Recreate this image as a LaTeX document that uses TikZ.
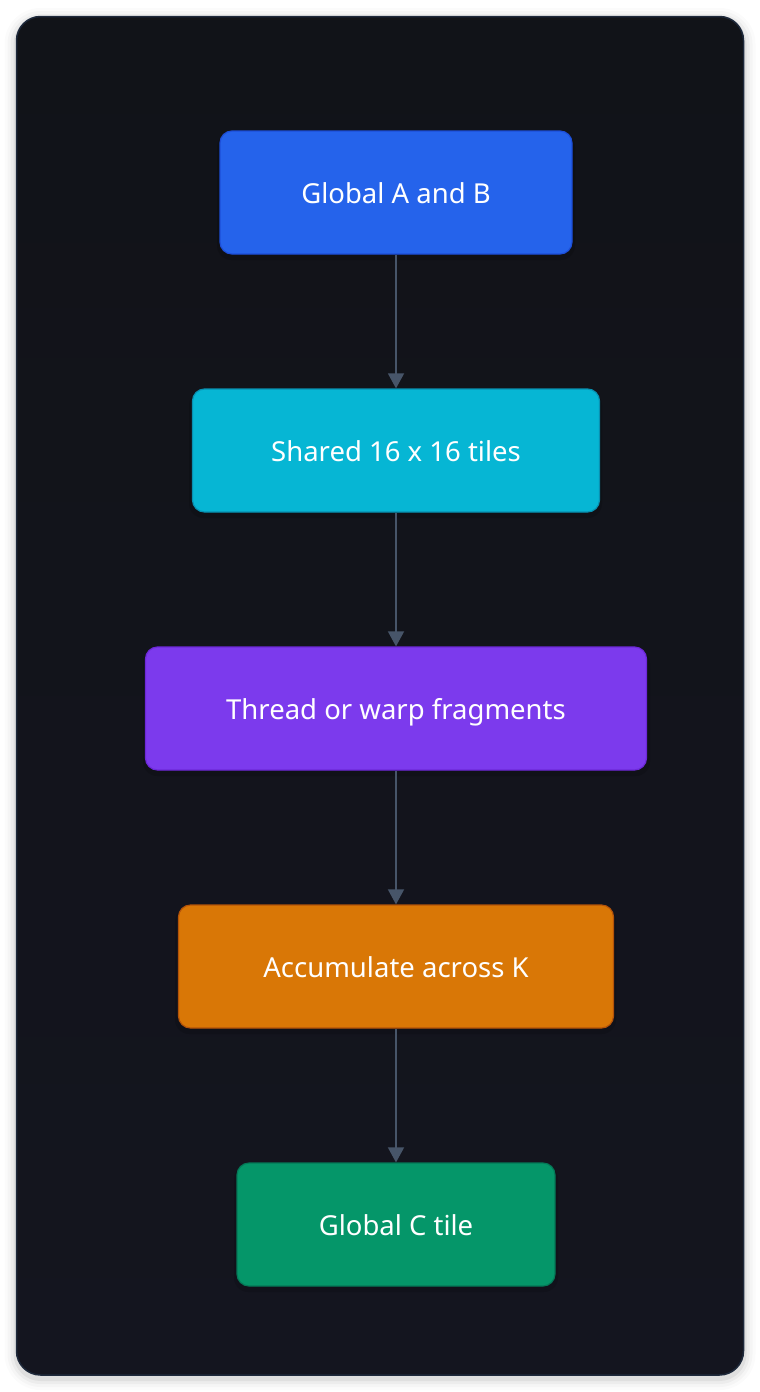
\documentclass[tikz,border=0pt]{standalone}
\usepackage{fontspec}
\setmainfont{Noto Sans}
\usetikzlibrary{arrows.meta}
\definecolor{panelA}{HTML}{111318}
\definecolor{panelB}{HTML}{14151F}
\definecolor{panelline}{HTML}{1E293B}
\definecolor{arrowc}{HTML}{475569}
\definecolor{blueF}{HTML}{2563EB}\definecolor{blueD}{HTML}{1D4ED8}
\definecolor{cyanF}{HTML}{06B6D4}\definecolor{cyanD}{HTML}{0891B2}
\definecolor{violF}{HTML}{7C3AED}\definecolor{violD}{HTML}{6D28D9}
\definecolor{amberF}{HTML}{D97706}\definecolor{amberD}{HTML}{B45309}
\definecolor{greenF}{HTML}{059669}\definecolor{greenD}{HTML}{047857}
\tikzset{
  box/.style={draw, line width=1.2pt, rounded corners=12pt, minimum height=123pt, text=white, font=\fontsize{27.5}{32}\selectfont, inner sep=0pt, text height=26pt, text depth=4pt},
  conn/.style={draw=arrowc, line width=1.5pt, -{Triangle[length=15pt,width=16pt]}},
}
\begin{document}
\begin{tikzpicture}[x=1pt,y=-1pt]
\useasboundingbox (0,0) rectangle (760,1392);
\fill[white] (0,0) rectangle (760,1392);
% panel shadow
\foreach \i/\o in {12/0.015,9/0.025,6/0.035,3/0.05}{
  \fill[black,opacity=\o,rounded corners=24pt+\i pt] (16.5-\i,20-\i) rectangle (743.5+\i,1378+\i);
}
\shade[top color=panelA,bottom color=panelB,rounded corners=24pt] (16.5,16.5) rectangle (743.5,1375);
\draw[panelline,line width=1.5pt,rounded corners=24pt] (16.5,16.5) rectangle (743.5,1375);
% node shadows
\foreach \a/\b/\c/\d in {220/131/572/254,192/389/599/512,146/647/647/770,178/905/613/1028,237/1163/555/1286}{
  \fill[black,opacity=0.12,rounded corners=14pt] (\a-3,\b+2) rectangle (\c+3,\d+6);
}
\node[box,fill=blueF,draw=blueD,minimum width=352pt] (n1) at (396,192.5) {Global A and B};
\node[box,fill=cyanF,draw=cyanD,minimum width=407pt] (n2) at (396,450.5) {Shared 16 x 16 tiles};
\node[box,fill=violF,draw=violD,minimum width=501pt] (n3) at (396,708.5) {Thread or warp fragments};
\node[box,fill=amberF,draw=amberD,minimum width=435pt] (n4) at (396,966.5) {Accumulate across K};
\node[box,fill=greenF,draw=greenD,minimum width=318pt] (n5) at (396,1224.5) {Global C tile};
\draw[conn] (n1.south) -- (n2.north);
\draw[conn] (n2.south) -- (n3.north);
\draw[conn] (n3.south) -- (n4.north);
\draw[conn] (n4.south) -- (n5.north);
\end{tikzpicture}
\end{document}
